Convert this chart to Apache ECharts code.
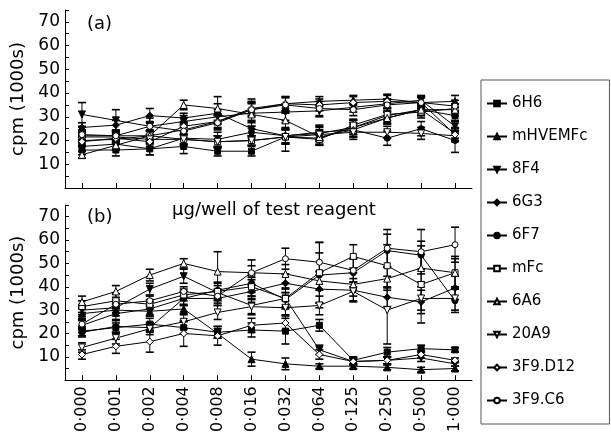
<!DOCTYPE html>
<html>
<head>
<meta charset="utf-8">
<script src="https://cdn.jsdelivr.net/npm/echarts@6/dist/echarts.min.js"></script>
<style>
html, body { margin: 0; padding: 0; background: #fff; }
#chart { width: 611px; height: 435px; }
</style>
</head>
<body>
<div id="chart"></div>
<script>
// doses, µg/well
var doses = ['0·000', '0·001', '0·002', '0·004', '0·008', '0·016', '0·032', '0·064', '0·125', '0·250', '0·500', '1·000'];
var names = ['6H6', 'mHVEMFc', '8F4', '6G3', '6F7', 'mFc', '6A6', '20A9', '3F9.D12', '3F9.C6'];

// panel (a)
var a6H6  = [16, 16, 16.5, 17.5, 15.5, 15.5, 21.5, 21, 25.5, 29.5, 33, 30.5];
var aMHV  = [20, 20.5, 22, 24.5, 28, 33, 35.5, 36.5, 37, 37.5, 36, 36.5];
var a8F4  = [31, 28.5, 26, 28, 30, 31.5, 32, 32.5, 34, 35.5, 37, 26];
var a6G3  = [25.5, 26.5, 30.5, 29.5, 31.5, 25, 22, 23, 25.5, 30.5, 33, 23];
var a6F7  = [17.5, 18.5, 16.5, 21, 20.5, 23.5, 22, 23.5, 24.5, 21, 25, 20];
var aMFc  = [22, 22, 22, 20.5, 19.5, 20, 21.5, 20.5, 26.5, 31, 32, 33.5];
var a6A6  = [14, 18, 22, 35, 33.5, 31, 28.5, 21.5, 24.5, 29.5, 33, 33];
var a20A9 = [21.5, 21.5, 20.5, 20.5, 19.5, 20, 21.5, 22.5, 23.5, 23.5, 23, 22];
var aD12  = [19.5, 21, 19.5, 26, 28, 33.5, 35.5, 35, 36, 36.5, 36, 22.5];
var aC6   = [22.5, 22, 26, 24, 27.5, 33, 35, 33.5, 33, 35, 36, 34.5];

// panel (a) error bars (+/-)
var ea6H6  = [2, 2.5, 2.5, 3, 2, 2, 6, 3, 3, 2.5, 2, 2];
var eaMHV  = [2, 2, 2, 2, 2.5, 3, 3, 2, 2, 2, 2, 2.5];
var ea8F4  = [5, 4.5, 3.5, 2.5, 3, 4, 3.5, 2.5, 2, 2, 2, 2];
var ea6G3  = [2, 2, 3, 2, 4, 3, 3, 3, 3, 3, 2.5, 2];
var ea6F7  = [2, 2, 2.5, 3, 3, 2.5, 3, 3, 3, 3, 3, 5];
var eaMFc  = [2, 2, 2, 2, 2.5, 2, 3, 2.5, 2.5, 2.5, 2.5, 2];
var ea6A6  = [1.5, 2, 2.5, 2, 5, 5, 3, 3, 3, 2.5, 2.5, 2.5];
var ea20A9 = [2, 2, 2, 2, 2.5, 2, 3, 3, 3, 2.5, 2.5, 2];
var eaD12  = [2, 2, 2, 2, 3, 3, 3, 2.5, 2.5, 2.5, 2.5, 3];
var eaC6   = [2, 2, 2, 3, 3, 4.5, 3, 3, 2.5, 2.5, 2.5, 2.5];

// panel (b)
var b6H6  = [21, 22.5, 24, 22.5, 20.5, 21.5, 21, 23.5, 8.5, 12, 13.5, 13];
var bMHV  = [28.5, 30, 29.5, 30.5, 20, 9, 7, 6, 6, 5.5, 4.5, 5];
var b8F4  = [30, 31, 39, 44.5, 37.5, 32, 35, 13, 8, 8.5, 9.5, 7];
var b6G3  = [20.5, 23, 22.5, 35, 35, 38, 41.5, 39, 38.5, 35.5, 33.5, 39.5];
var b6F7  = [23.5, 28.5, 30.5, 35, 38.5, 41.5, 34.5, 45, 46, 55.5, 53.5, 34];
var bMFc  = [31.5, 34, 32.5, 36.5, 38, 40, 35, 46, 53, 49, 41, 46];
var b6A6  = [33.5, 38, 45, 50, 46.5, 46, 45.5, 42.5, 41, 43.5, 48, 46];
var b20A9 = [14, 18, 22, 25, 29, 31.5, 31, 32, 38, 30, 35, 35];
var bD12  = [11, 14.5, 16.5, 20, 19, 23.5, 24.5, 11, 8, 8.5, 11, 8.5];
var bC6   = [24, 32.5, 34, 38, 36, 46, 52, 50.5, 47, 56.5, 55, 58];

// panel (b) error bars (+/-)
var eb6H6  = [2, 2, 2.5, 2.5, 2.5, 3, 5.5, 2.5, 1.5, 2, 1.5, 1];
var ebMHV  = [2, 2.5, 2, 2, 2, 3, 2.5, 1, 1, 1, 1, 1];
var eb8F4  = [2, 2, 2.5, 3, 3, 4, 4, 2, 1.5, 1.5, 1.5, 1];
var eb6G3  = [2, 3, 2, 3, 3, 3, 4, 6, 5, 4, 5, 5];
var eb6F7  = [2, 3, 3, 3, 3, 4, 3, 14, 6, 7, 6, 5];
var ebMFc  = [2.5, 3, 2, 2.5, 4, 4, 4.5, 13, 5, 9, 16.5, 6];
var eb6A6  = [2.5, 2.5, 2.5, 2, 8.5, 5.5, 4, 4, 5, 5, 6, 7];
var eb20A9 = [2, 2.5, 2.5, 3, 3, 3, 3, 4, 4, 14.5, 5, 5];
var ebD12  = [2, 3, 4.5, 5.5, 4, 3, 3, 2, 1.5, 1.5, 1.5, 1];
var ebC6   = [2, 2, 2, 2, 3, 3, 4.5, 4, 5, 8, 9.5, 7.5];

var panelA = [a6H6, aMHV, a8F4, a6G3, a6F7, aMFc, a6A6, a20A9, aD12, aC6];
var errA = [ea6H6, eaMHV, ea8F4, ea6G3, ea6F7, eaMFc, ea6A6, ea20A9, eaD12, eaC6];
var panelB = [b6H6, bMHV, b8F4, b6G3, b6F7, bMFc, b6A6, b20A9, bD12, bC6];
var errB = [eb6H6, ebMHV, eb8F4, eb6G3, eb6F7, ebMFc, eb6A6, eb20A9, ebD12, ebC6];

var downTri = 'path://M0,0L10,0L5,9Z';
var shapes = ['rect', 'triangle', downTri, 'diamond', 'circle', 'rect', 'triangle', downTri, 'diamond', 'circle'];
var sizes = [6, 7, 7, 7, 6, 6, 7, 7, 7, 6];
var font = 'DejaVu Sans';

function lineSeries(i, idx, vals) {
  var filled = i < 5;
  return {
    name: names[i], type: 'line', xAxisIndex: idx, yAxisIndex: idx,
    data: vals, symbol: shapes[i], symbolSize: sizes[i], z: 3,
    lineStyle: { color: '#000', width: 1 },
    itemStyle: { color: filled ? '#000' : '#fff', borderColor: '#000', borderWidth: 1 },
    emphasis: { disabled: true }
  };
}

function errSeries(idx, vals, errs) {
  return {
    type: 'custom', xAxisIndex: idx, yAxisIndex: idx, silent: true, z: 2,
    data: vals.map(function (v, j) { return [j, v - errs[j], v + errs[j]]; }),
    encode: { x: 0, y: [1, 2] },
    renderItem: function (params, api) {
      var lo = api.coord([api.value(0), api.value(1)]);
      var hi = api.coord([api.value(0), api.value(2)]);
      var w = 4;
      var st = { stroke: '#000', lineWidth: 1 };
      var cap = { stroke: '#000', lineWidth: 1.6 };
      return { type: 'group', children: [
        { type: 'line', shape: { x1: lo[0], y1: lo[1], x2: hi[0], y2: hi[1] }, style: st },
        { type: 'line', shape: { x1: lo[0] - w, y1: lo[1], x2: lo[0] + w, y2: lo[1] }, style: cap },
        { type: 'line', shape: { x1: hi[0] - w, y1: hi[1], x2: hi[0] + w, y2: hi[1] }, style: cap }
      ] };
    }
  };
}

function yAxis(idx) {
  return {
    type: 'value', gridIndex: idx, min: 0, max: 75, interval: 5,
    name: 'cpm (1000s)', nameLocation: 'middle', nameGap: 35,
    nameTextStyle: { fontFamily: font, fontSize: 18, color: '#000' },
    axisLine: { show: true, lineStyle: { color: '#000', width: 1 } },
    axisTick: { show: true, inside: true, length: 4, lineStyle: { color: '#000' } },
    axisLabel: {
      fontFamily: font, fontSize: 17, color: '#000', margin: 5,
      formatter: function (v) { return (v > 0 && v % 10 === 0) ? String(v) : ''; }
    },
    splitLine: { show: false }
  };
}

function xAxis(idx, labels) {
  return {
    type: 'category', gridIndex: idx, data: doses, boundaryGap: true,
    axisLine: { show: true, onZero: false, lineStyle: { color: '#000', width: 1 } },
    axisTick: { show: true, inside: true, alignWithLabel: true, length: 5, lineStyle: { color: '#000' } },
    axisLabel: { show: labels, rotate: 90, margin: 6, fontFamily: font, fontSize: 16, color: '#000', interval: 0 },
    splitLine: { show: false }
  };
}

var series = [];
for (var i = 0; i < names.length; i++) {
  series.push(errSeries(0, panelA[i], errA[i]));
  series.push(errSeries(1, panelB[i], errB[i]));
}
for (var k = 0; k < names.length; k++) {
  series.push(lineSeries(k, 0, panelA[k]));
  series.push(lineSeries(k, 1, panelB[k]));
}

var chart = echarts.init(document.getElementById('chart'));
chart.setOption({
  animation: false,
  backgroundColor: '#fff',
  title: [
    { text: '(a)', left: 82, top: 10, textStyle: { fontFamily: font, fontSize: 18, fontWeight: 'normal', color: '#000' } },
    { text: '(b)', left: 82, top: 203, textStyle: { fontFamily: font, fontSize: 18, fontWeight: 'normal', color: '#000' } },
    { text: 'μg/well of test reagent', left: 167, top: 196, textStyle: { fontFamily: font, fontSize: 18, fontWeight: 'normal', color: '#000' } }
  ],
  legend: {
    data: names, orient: 'vertical', left: 481, top: 80,
    itemWidth: 20, itemHeight: 7, itemGap: 18,
    padding: [16, 22, 16, 5],
    borderColor: '#555', borderWidth: 1,
    textStyle: { fontFamily: font, fontSize: 15, color: '#000' },
    selectedMode: false
  },
  grid: [
    { left: 65, top: 10, width: 407, height: 178 },
    { left: 65, top: 205, width: 407, height: 175.5 }
  ],
  xAxis: [xAxis(0, false), xAxis(1, true)],
  yAxis: [yAxis(0), yAxis(1)],
  series: series
});
</script>
</body>
</html>
